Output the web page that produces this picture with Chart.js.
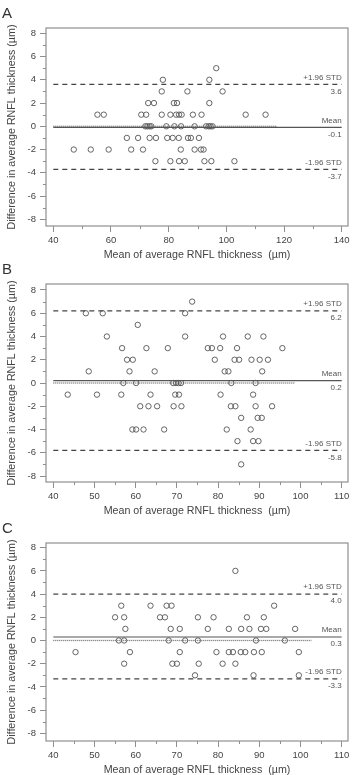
<!DOCTYPE html>
<html lang="en">
<head>
<meta charset="UTF-8">
<meta name="viewport" content="width=device-width, initial-scale=1.0">
<title>Bland-Altman plots of average RNFL thickness</title>
<script src="https://cdn.jsdelivr.net/npm/chart.js"></script>
<style>
    body {
        margin: 0;
        background: #fff;
        font-family: "Liberation Sans", Arial, sans-serif;
    }
    #wrap {
        position: relative;
        width: 355px;
        height: 775px;
        overflow: hidden;
    }
    .panel {
        position: absolute;
        left: 0;
        width: 355px;
        height: 262px;
    }
    .letter {
        position: absolute;
        left: 2px;
        font-size: 15px;
        line-height: 15px;
        color: #333;
    }
</style>
</head>
<body>
<div id="wrap">
    <div class="panel" style="top:0px"><canvas id="chartA"></canvas></div>
    <div class="panel" style="top:256px"><canvas id="chartB"></canvas></div>
    <div class="panel" style="top:515px"><canvas id="chartC"></canvas></div>
    <div class="letter" style="top:5px">A</div>
    <div class="letter" style="top:261px">B</div>
    <div class="letter" style="top:520px">C</div>
</div>

<script>
    // ---- data ----
    // panel A
    const meanA = [96.5, 78.0, 94.1, 77.6, 86.5, 98.7, 72.9, 74.9, 81.8, 82.9, 94.1,
        55.3, 57.5, 70.5, 72.2, 77.6, 80.6, 82.6, 83.6, 84.5, 88.4, 91.4, 106.7, 113.6,
        71.9, 72.6, 73.4, 74.0, 79.2, 82.0, 84.3, 89.0, 93.0, 93.9, 94.5, 95.2,
        65.5, 69.4, 73.4, 75.6, 79.5, 81.4, 83.5, 86.7, 87.7, 90.5,
        47.1, 53.0, 59.2, 67.0, 71.1, 84.2, 89.0, 91.2, 92.1,
        75.4, 80.6, 83.6, 85.6, 92.4, 94.8, 102.8];
    const diffA = [5, 4, 4, 3, 3, 3, 2, 2, 2, 2, 2,
        1, 1, 1, 1, 1, 1, 1, 1, 1, 1, 1, 1, 1,
        0, 0, 0, 0, 0, 0, 0, 0, 0, 0, 0, 0,
        -1, -1, -1, -1, -1, -1, -1, -1, -1, -1,
        -2, -2, -2, -2, -2, -2, -2, -2, -2,
        -3, -3, -3, -3, -3, -3, -3];
    const limitsA = [3.6, -0.1, -3.7];   // +1.96 STD, mean, -1.96 STD
    const xTicksA = [40, 60, 80, 100, 120, 140];
    const zeroEndA = 117.5;

    // panel B
    const meanB = [73.7, 47.9, 52.0, 72.0, 60.5,
        53.0, 72.0, 81.2, 87.2, 91.0,
        56.7, 62.6, 67.8, 77.5, 78.5, 80.5, 84.6, 95.6,
        57.9, 59.3, 79.2, 84.0, 85.1, 88.1, 90.1, 92.1,
        48.6, 58.5, 64.6, 81.6, 82.5, 90.7,
        57.0, 60.1, 69.1, 69.8, 70.4, 71.0, 83.2, 89.1,
        43.5, 50.6, 56.5, 63.6, 69.6, 70.5, 80.6, 88.5,
        61.1, 63.1, 65.2, 69.2, 71.1, 83.1, 84.2, 89.1, 93.1,
        85.6, 89.6, 90.6,
        59.2, 60.1, 61.9, 66.9, 82.1, 87.9,
        84.7, 88.5, 89.8,
        85.6];
    const diffB = [7, 6, 6, 6, 5,
        4, 4, 4, 4, 4,
        3, 3, 3, 3, 3, 3, 3, 3,
        2, 2, 2, 2, 2, 2, 2, 2,
        1, 1, 1, 1, 1, 1,
        0, 0, 0, 0, 0, 0, 0, 0,
        -1, -1, -1, -1, -1, -1, -1, -1,
        -2, -2, -2, -2, -2, -2, -2, -2, -2,
        -3, -3, -3,
        -4, -4, -4, -4, -4, -4,
        -5, -5, -5,
        -7];
    const limitsB = [6.2, 0.2, -5.8];
    const xTicksB = [40, 50, 60, 70, 80, 90, 100, 110];
    const zeroEndB = 98.7;

    // panel C
    const meanC = [84.2,
        56.5, 63.6, 67.5, 68.7, 93.6,
        55.0, 57.2, 65.9, 67.1, 75.1, 78.9, 87.0, 91.1,
        57.5, 68.5, 70.7, 77.5, 82.6, 85.6, 87.6, 90.4, 91.7, 98.7,
        55.9, 57.2, 68.0, 72.0, 75.1, 89.2, 96.2,
        45.4, 58.6, 70.7, 79.6, 82.6, 83.6, 85.5, 86.6, 88.7, 90.6, 99.6,
        57.2, 68.9, 70.0, 75.3, 81.1, 84.2,
        74.4, 88.6, 99.6];
    const diffC = [6,
        3, 3, 3, 3, 3,
        2, 2, 2, 2, 2, 2, 2, 2,
        1, 1, 1, 1, 1, 1, 1, 1, 1, 1,
        0, 0, 0, 0, 0, 0, 0,
        -1, -1, -1, -1, -1, -1, -1, -1, -1, -1, -1,
        -2, -2, -2, -2, -2, -2,
        -3, -3, -3];
    const limitsC = [4.0, 0.3, -3.3];
    const xTicksC = [40, 50, 60, 70, 80, 90, 100, 110];
    const zeroEndC = 102.7;

    const yTicks = [-8, -6, -4, -2, 0, 2, 4, 6, 8];
    const limitNames = ['+1.96 STD', 'Mean', '-1.96 STD'];

    const FONT = '"Liberation Sans", Arial, sans-serif';
    Chart.defaults.font.family = FONT;
    Chart.defaults.color = '#444';

    // frame, minor ticks and the limit labels
    const framePlugin = {
        id: 'frame',
        beforeDatasetsDraw(chart, args, opts) {
            const { ctx, chartArea: a, scales: { x, y } } = chart;
            ctx.save();
            ctx.strokeStyle = '#8f8f8f';
            ctx.lineWidth = 1.2;
            ctx.strokeRect(a.left, a.top, a.right - a.left, a.bottom - a.top);
            ctx.lineWidth = 1;
            ctx.beginPath();
            const xt = opts.xTicks, step = (xt[1] - xt[0]) / 2;
            for (let v = xt[0] + step; v < xt[xt.length - 1]; v += 2 * step) {
                const px = Math.round(x.getPixelForValue(v)) + 0.5;
                ctx.moveTo(px, a.bottom);
                ctx.lineTo(px, a.bottom + 3);
            }
            for (let v = -7; v <= 7; v += 2) {
                const py = Math.round(y.getPixelForValue(v)) + 0.5;
                ctx.moveTo(a.left, py);
                ctx.lineTo(a.left - 3, py);
            }
            ctx.stroke();
            ctx.restore();
        },
        afterDatasetsDraw(chart, args, opts) {
            const { ctx, scales: { x, y } } = chart;
            const px = x.getPixelForValue(opts.xTicks[opts.xTicks.length - 1]);
            ctx.save();
            ctx.font = '8px ' + FONT;
            ctx.fillStyle = '#555';
            ctx.textAlign = 'right';
            ctx.textBaseline = 'middle';
            opts.limits.forEach((v, i) => {
                const py = y.getPixelForValue(v);
                ctx.fillText(limitNames[i], px, py - 7);
                ctx.fillText(v.toFixed(1), px, py + 7);
            });
            ctx.restore();
        }
    };

    function makeChart(id, mean, diff, limits, xTicks, zeroEnd, xRange, yRange) {
        const x0 = xTicks[0], x1 = xTicks[xTicks.length - 1];
        const hLine = v => [{ x: x0, y: v }, { x: x1, y: v }];
        const lineDs = (data, dash, color, width) => ({
            type: 'scatter', data, showLine: true, pointRadius: 0,
            borderColor: color, borderWidth: width, borderDash: dash, fill: false
        });

        new Chart(document.getElementById(id), {
            type: 'scatter',
            data: {
                datasets: [
                    lineDs(hLine(limits[0]), [5, 4], '#444', 1.2),
                    lineDs(hLine(limits[2]), [5, 4], '#444', 1.2),
                    lineDs([{ x: x0, y: 0 }, { x: zeroEnd, y: 0 }], [1, 1], '#666', 1.3),
                    lineDs(hLine(limits[1]), [], '#555', 1.2),
                    {
                        type: 'scatter',
                        data: mean.map((m, i) => ({ x: m, y: diff[i] })),
                        pointStyle: 'circle',
                        pointRadius: 2.7,
                        pointBorderWidth: 0.9,
                        borderColor: '#555',
                        backgroundColor: 'rgba(0,0,0,0)'
                    }
                ]
            },
            options: {
                responsive: true,
                maintainAspectRatio: false,
                animation: false,
                layout: { padding: { top: 28, right: 7, left: 0, bottom: 0 } },
                plugins: {
                    legend: { display: false },
                    tooltip: { enabled: false },
                    frame: { xTicks, limits }
                },
                scales: {
                    x: {
                        type: 'linear',
                        min: xRange[0],
                        max: xRange[1],
                        afterBuildTicks: s => { s.ticks = xTicks.map(v => ({ value: v })); },
                        afterFit: s => { s.height = 36; },
                        grid: { drawOnChartArea: false, drawTicks: true, tickLength: 6, color: '#8f8f8f' },
                        border: { display: false },
                        ticks: { padding: 3, font: { size: 9.5 }, color: '#444' },
                        title: {
                            display: true,
                            text: 'Mean of average RNFL thickness  (\u00b5m)',
                            font: { size: 10.7 },
                            color: '#444',
                            padding: { top: 0, bottom: 1 }
                        }
                    },
                    y: {
                        type: 'linear',
                        min: yRange[0],
                        max: yRange[1],
                        afterBuildTicks: s => { s.ticks = yTicks.map(v => ({ value: v })); },
                        afterFit: s => { s.width = 46; },
                        grid: { drawOnChartArea: false, drawTicks: true, tickLength: 6, color: '#8f8f8f' },
                        border: { display: false },
                        ticks: { padding: 4, font: { size: 9.5 }, color: '#444' },
                        title: {
                            display: true,
                            text: 'Difference in average RNFL thickness (\u00b5m)',
                            font: { size: 10.7 },
                            color: '#444',
                            padding: { top: 6, bottom: 0 }
                        }
                    }
                }
            },
            plugins: [framePlugin]
        });
    }

    makeChart('chartA', meanA, diffA, limitsA, xTicksA, zeroEndA, [37.47, 142.18], [-8.576, 8.456]);
    makeChart('chartB', meanB, diffB, limitsB, xTicksB, zeroEndB, [38.23, 111.53], [-8.516, 8.516]);
    makeChart('chartC', meanC, diffC, limitsC, xTicksC, zeroEndC, [38.23, 111.53], [-8.664, 8.405]);
</script>
</body>
</html>
